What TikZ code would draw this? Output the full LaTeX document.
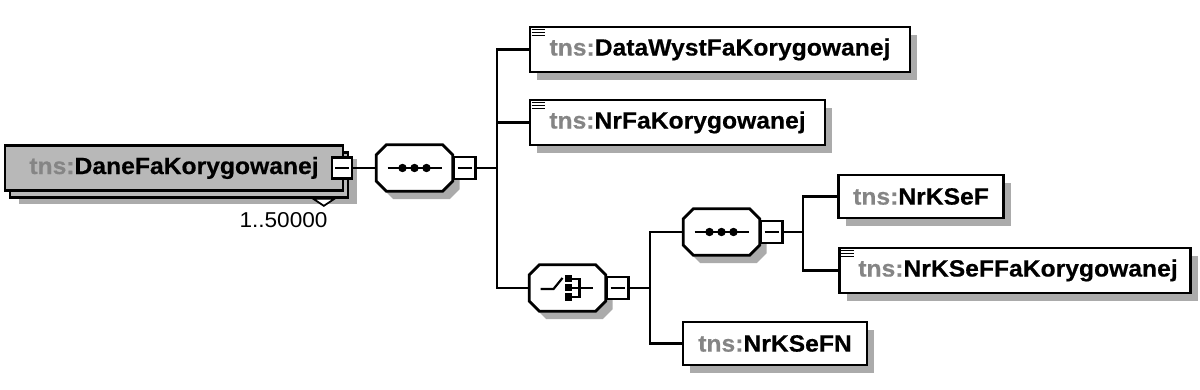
\documentclass[tikz,border=0pt]{standalone}
\usepackage{fontspec}
\setmainfont[FakeStretch=1.05, BoldFeatures={FakeBold=0.5}]{Liberation Sans}
\usetikzlibrary{shadows,calc}
\definecolor{rootgray}{HTML}{B8B8B8}
\definecolor{shgray}{HTML}{ABABAB}
\definecolor{tnsgray}{HTML}{858585}
\newcommand{\tnsname}[1]{\textcolor{tnsgray}{tns:}#1}
\tikzset{
  lbl/.style={font=\fontsize{23.5}{28}\selectfont\bfseries},
  elbox/.style={draw=black, line width=2.7pt, fill=white, rectangle, inner sep=0pt, lbl,
     drop shadow={shadow xshift=7pt, shadow yshift=-8pt, fill=shgray, opacity=1}},
  rootbox/.style={draw=black, line width=2.7pt, fill=rootgray, rectangle, inner sep=0pt, lbl,
     drop shadow={shadow xshift=14pt, shadow yshift=-14pt, fill=shgray, opacity=1},
     copy shadow={shadow xshift=5pt, shadow yshift=-7pt, fill=rootgray, draw=black, opacity=1}},
  minusbox/.style={draw=black, line width=2.4pt, fill=white, rectangle, minimum width=22pt, minimum height=22pt, inner sep=0pt},
  comp/.style={rectangle, minimum width=76pt, minimum height=46pt, inner sep=0pt, draw=none},
  octo/.style={draw=black, line width=2.7pt, fill=white, line join=miter,
     drop shadow={shadow xshift=7pt, shadow yshift=-8pt, fill=shgray, opacity=1}},
  conn/.style={line width=2.4pt},
  icon/.style={line width=2.2pt},
}
\newcommand{\octagonfor}[1]{\draw[octo] ([xshift=10pt]#1.north west) -- ([xshift=-10pt]#1.north east) -- ([yshift=-10pt]#1.north east) -- ([yshift=10pt]#1.south east) -- ([xshift=-10pt]#1.south east) -- ([xshift=10pt]#1.south west) -- ([yshift=10pt]#1.south west) -- ([yshift=-10pt]#1.north west) -- cycle;}
\newcommand{\minusline}[1]{\draw[icon] ($(#1)+(-7,0)$) -- ($(#1)+(7,0)$);}
\newcommand{\txticon}[1]{\foreach \dy in {3.8,6.8,9.8} {\draw[line width=1.7pt] ($(#1.north west)+(3,\dy)$) -- ++(13,0);}}
\newcommand{\seqicon}[1]{\draw[icon] ($(#1)+(-27,0)$) -- ($(#1)+(27,0)$);
  \foreach \dx in {-12,0,12} {\fill ($(#1)+(\dx,0)$) circle (4.2pt);}}
\begin{document}
\begin{tikzpicture}[x=1pt,y=-1pt]
\fill[white] (0,0) rectangle (1200,390);
\useasboundingbox (0,0) rectangle (1200,390);

% root element
\node[rootbox, minimum width=338pt, minimum height=45pt] (root) at (174,168) {\tnsname{DaneFaKorygowanej}\hspace{8pt}};
\draw[line width=1.8pt, fill=white] ($(root.south east)+(-31,7)$) -- ++(21,0) -- ++(-10.5,7) -- cycle;
\node[minusbox, minimum width=20pt, minimum height=21pt] (rm) at (342,168) {};
\minusline{rm}
\node[font=\fontsize{21.5}{26}\selectfont] (mult) at (283.5,220) {1..50000};

% sequence 1
\node[comp] (s1) at (414.5,168) {};
\octagonfor{s1}
\seqicon{s1}
\node[minusbox] (m1) at (464.5,168) {};
\minusline{m1}
\coordinate (b1) at (497,168);

% children of sequence 1
\node[elbox, minimum width=380pt, minimum height=45pt] (c1) at (720,49.5) {\tnsname{DataWystFaKorygowanej}};
\txticon{c1}
\node[elbox, minimum width=295pt, minimum height=45pt] (c2) at (677.5,122.5) {\tnsname{NrFaKorygowanej}};
\txticon{c2}

% choice
\node[comp] (ch) at (567.5,288) {};
\octagonfor{ch}
\draw[icon] ($(ch)+(-27,1)$) -- ($(ch)+(-14,1)$) -- ($(ch)+(-5,-10)$);
\foreach \dy in {-9,0,9} {\fill ($(ch)+(-2.5,\dy-3.5)$) rectangle ++(7,7);}
\draw[icon] ($(ch)+(4,-9)$) -- ($(ch)+(12,-9)$) -- ($(ch)+(12,9)$) -- ($(ch)+(4,9)$);
\draw[icon] ($(ch)+(4,0)$) -- ($(ch)+(25,0)$);
\node[minusbox] (mch) at (617.5,288) {};
\minusline{mch}
\coordinate (b2) at (650,288);

% sequence 2
\node[comp] (s2) at (721.5,232) {};
\octagonfor{s2}
\seqicon{s2}
\node[minusbox] (m2) at (771.5,232) {};
\minusline{m2}
\coordinate (b3) at (803,232);

\node[elbox, minimum width=165pt, minimum height=43pt] (c3) at (921,196.5) {\tnsname{NrKSeF}};
\node[elbox, minimum width=351pt, minimum height=45pt] (c4) at (1015,270.5) {\hspace{6pt}\tnsname{NrKSeFFaKorygowanej}};
\txticon{c4}
\node[elbox, minimum width=184pt, minimum height=43pt] (c5) at (775,343.5) {\tnsname{NrKSeFN}};

% connectors
\draw[conn] (rm.east) -- (s1.west);
\draw[conn] (m1.east) -- (b1);
\draw[conn] (c1.west) -| (b1) |- (ch.west);
\draw[conn] (b1) |- (c2.west);
\draw[conn] (mch.east) -- (b2);
\draw[conn] (s2.west) -| (b2) |- (c5.west);
\draw[conn] (m2.east) -- (b3);
\draw[conn] (c3.west) -| (b3) |- (c4.west);
\end{tikzpicture}
\end{document}
